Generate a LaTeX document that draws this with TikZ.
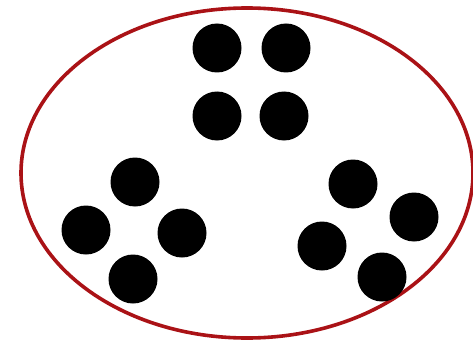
\documentclass[tikz,border=0pt]{standalone}
\definecolor{setred}{RGB}{170,18,22}
\usepackage{tikz}
\usetikzlibrary{shapes.geometric}

\begin{document}
\begin{tikzpicture}[
  x=1pt, y=-1pt,
  dot/.style={circle, fill=black, draw=none, minimum size=49pt, inner sep=0pt},
  setline/.style={ellipse, draw=setred, line width=3.6pt,
    minimum width=452pt, minimum height=330pt, inner sep=0pt},
]
\useasboundingbox (0,0) rectangle (473,342);

% outer set
\node[setline] (set) at (247,173) {};

% top group
\node[dot] (t1) at (217,48) {};
\node[dot] (t2) at (286,48) {};
\node[dot] (t3) at (217,116) {};
\node[dot] (t4) at (284,116) {};

% left group
\node[dot] (l1) at (135,182) {};
\node[dot] (l2) at (86,230) {};
\node[dot] (l3) at (182,233) {};
\node[dot] (l4) at (133,279) {};

% right group
\node[dot] (r1) at (353,184) {};
\node[dot] (r2) at (414,217) {};
\node[dot] (r3) at (322,246) {};
\node[dot] (r4) at (382,277) {};
\end{tikzpicture}
\end{document}
